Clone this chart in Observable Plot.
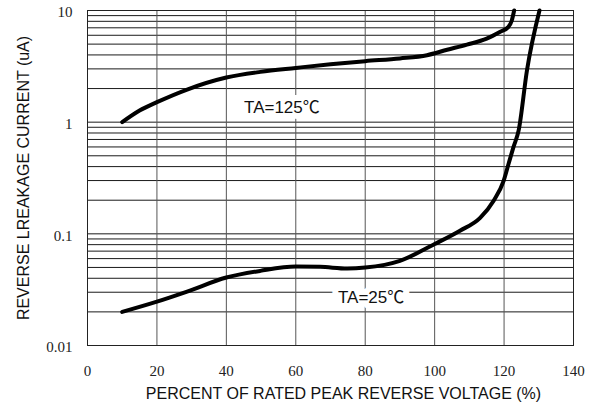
<!DOCTYPE html>
<html>
<head>
<meta charset="utf-8">
<script src="https://cdn.jsdelivr.net/npm/d3@7"></script>
<script src="https://cdn.jsdelivr.net/npm/@observablehq/plot@0.6"></script>
<style>
  html, body { margin: 0; padding: 0; background: #fff; }
</style>
</head>
<body>
<div id="chart"></div>
<script>
// ---- data ----
const ta125X = [10, 15, 20, 28.7, 40, 49.8, 60, 70, 80, 90, 97.8, 103.6, 109.3, 115, 118.9, 121.2, 122.2, 122.9];
const ta125Y = [1.0, 1.27, 1.51, 1.96, 2.51, 2.82, 3.06, 3.3, 3.52, 3.72, 3.98, 4.45, 4.95, 5.6, 6.45, 7.1, 8.1, 10];

const ta25X = [10, 20, 28.7, 40, 49.8, 60, 67, 74.8, 80, 90, 100, 107.3, 113.1, 117, 119.9, 121.3, 122.7, 124.2, 126.6, 130.2];
const ta25Y = [0.02, 0.0247, 0.0304, 0.0406, 0.0466, 0.0509, 0.0506, 0.0489, 0.0499, 0.0573, 0.081, 0.1067, 0.139, 0.198, 0.30, 0.424, 0.597, 0.844, 2.92, 10];

const labelText = ["TA=125\u2103", "TA=25\u2103"];
const labelX = [56, 81.7];
const labelY = [1.34, 0.0267];

const xTicks = [0, 20, 40, 60, 80, 100, 120, 140];
const yTicks = [0.01, 0.1, 1, 10];
const yTickLabels = ["0.01", "0.1", "1", "10"];
const decades = [0.01, 0.1, 1];
const multipliers = [1, 2, 3, 4, 5, 6, 7, 8, 9];

const xTitle = "PERCENT OF RATED PEAK REVERSE VOLTAGE (%)";
const yTitle = "REVERSE LREAKAGE CURRENT (uA)";

// ---- build tables ----
const s125 = ta125X.map((x, i) => ({x, y: ta125Y[i]}));
const s25 = ta25X.map((x, i) => ({x, y: ta25Y[i]}));
const labels = labelText.map((t, i) => ({t, x: labelX[i], y: labelY[i]}));
const hGrid = decades.flatMap(d => multipliers.map(m => +(d * m).toPrecision(3))).concat([10]);

const sans = "'Liberation Sans', Arial, 'Noto Sans CJK TC', sans-serif";
const serif = "'Liberation Serif', 'Times New Roman', serif";

const chart = Plot.plot({
  width: 597,
  height: 412,
  marginTop: 10,
  marginLeft: 87,
  marginRight: 24,
  marginBottom: 67,
  style: {background: "white", fontFamily: sans},
  x: {domain: [0, 140]},
  y: {type: "log", domain: [0.01, 10]},
  marks: [
    Plot.ruleY(hGrid, {stroke: "#1a1a1a", strokeWidth: 1}),
    Plot.ruleX(xTicks, {stroke: "#555", strokeWidth: 1}),
    Plot.frame({stroke: "#222", strokeWidth: 1}),
    Plot.axisX(xTicks, {tickSize: 0, tickPadding: 20, fontFamily: serif, fontSize: 15, label: null, fill: "#222"}),
    Plot.axisY({ticks: yTicks, tickSize: 0, tickPadding: 15, dy: 2, fontFamily: serif, fontSize: 15, label: null, fill: "#222",
      tickFormat: d => yTickLabels[yTicks.indexOf(d)]}),
    Plot.line(s125, {x: "x", y: "y", stroke: "black", strokeWidth: 4, curve: "monotone-x", strokeLinecap: "round"}),
    Plot.line(s25, {x: "x", y: "y", stroke: "black", strokeWidth: 4, curve: "monotone-x", strokeLinecap: "round"}),
    Plot.text(labels, {x: "x", y: "y", text: "t", fontSize: 17, fontFamily: sans, fill: "#111",
      stroke: "white", strokeWidth: 12, strokeLinejoin: "round"}),
    Plot.text([xTitle], {frameAnchor: "bottom", dx: 13, dy: 53, fontSize: 16, fontFamily: sans, fill: "#111"}),
    Plot.text([yTitle], {frameAnchor: "left", textAnchor: "middle", dx: -64, rotate: -90, fontSize: 16, fontFamily: sans, fill: "#111"})
  ]
});
document.getElementById("chart").appendChild(chart);
</script>
</body>
</html>
